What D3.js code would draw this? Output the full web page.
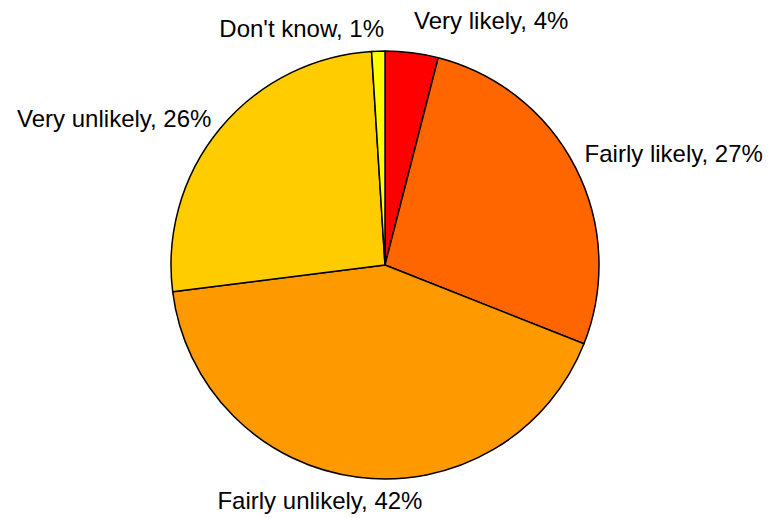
<!DOCTYPE html>
<html>
<head>
<meta charset="utf-8">
<script src="https://cdn.jsdelivr.net/npm/d3@7"></script>
<style>
  html, body { margin: 0; padding: 0; background: #fff; }
  svg { display: block; }
  text { font-family: "Liberation Sans", Arial, sans-serif; font-size: 24px; fill: #000; }
</style>
</head>
<body>
<script>
// Data
const categories = ["Very likely", "Fairly likely", "Fairly unlikely", "Very unlikely", "Don't know"];
const values = [4, 27, 42, 26, 1];
const colors = ["#FF0000", "#FF6600", "#FF9900", "#FFCC00", "#FFFF00"];

// Label layout (anchor side and small nudges relative to the outside-end anchor)
const labelAnchor = ["start", "start", "middle", "end", "end"];
const labelNudge = [[1, -14], [0, -1], [-37, 22], [-1, 5], [6, -4]];

const W = 769, H = 518;
const cx = 385, cy = 265, R = 214;

const svg = d3.select("body").append("svg").attr("width", W).attr("height", H);
const g = svg.append("g").attr("transform", `translate(${cx},${cy})`);

const data = categories.map((c, i) => ({ cat: c, value: values[i], color: colors[i], i }));
const pie = d3.pie().sort(null).value(d => d.value);
const arcs = pie(data);
const arc = d3.arc().innerRadius(0).outerRadius(R);

g.selectAll("path.slice").data(arcs).enter().append("path")
  .attr("class", "slice")
  .attr("d", arc)
  .attr("fill", d => d.data.color)
  .attr("stroke", "#000")
  .attr("stroke-width", 1.5)
  .attr("stroke-linejoin", "round");

const labelR = R + 10;
g.selectAll("text.lbl").data(arcs).enter().append("text")
  .attr("class", "lbl")
  .attr("text-anchor", d => labelAnchor[d.data.i])
  .attr("x", d => {
    const a = (d.startAngle + d.endAngle) / 2;
    return labelR * Math.sin(a) + labelNudge[d.data.i][0];
  })
  .attr("y", d => {
    const a = (d.startAngle + d.endAngle) / 2;
    return -labelR * Math.cos(a) + labelNudge[d.data.i][1];
  })
  .text(d => `${d.data.cat}, ${d.data.value}%`);
</script>
</body>
</html>
